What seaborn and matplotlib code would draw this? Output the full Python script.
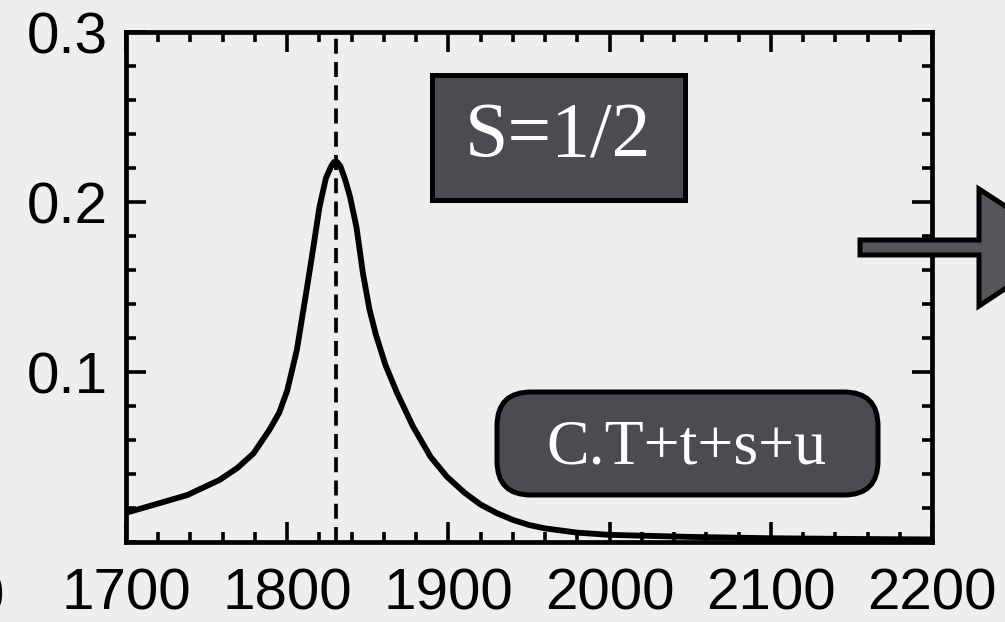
import numpy as np
import pandas as pd
import matplotlib
matplotlib.use("Agg")
import matplotlib.pyplot as plt
import seaborn as sns
from matplotlib.patches import FancyBboxPatch, Rectangle, Polygon
from matplotlib.transforms import IdentityTransform
from matplotlib.ticker import MultipleLocator

# ---- data ----
energy = [1700, 1717, 1738, 1758, 1769, 1779, 1789, 1795, 1800, 1806, 1812,
          1816, 1820, 1824, 1827, 1829, 1831, 1833, 1836, 1839, 1843, 1847,
          1851, 1855, 1861, 1868, 1878, 1889, 1899, 1910, 1920, 1930, 1940,
          1950, 1960, 1980, 2000, 2050, 2100, 2150, 2200]
signal = [0.0172, 0.0218, 0.0276, 0.0365, 0.0435, 0.052, 0.066, 0.076, 0.089,
          0.113, 0.148, 0.172, 0.197, 0.214, 0.2205, 0.2235, 0.2235, 0.221,
          0.213, 0.203, 0.185, 0.158, 0.137, 0.122, 0.104, 0.088, 0.068, 0.050,
          0.0385, 0.029, 0.022, 0.017, 0.013, 0.010, 0.008, 0.0055, 0.0042,
          0.0030, 0.0022, 0.0018, 0.0015]
peak_position = 1830
x_ticks = [1700, 1800, 1900, 2000, 2100, 2200]
x_tick_labels = ["1700", "1800", "1900", "2000", "2100", "2200"]
y_ticks = [0.1, 0.2, 0.3]
y_tick_labels = ["0.1", "0.2", "0.3"]
spin_label = "S=1/2"
channel_label = "C.T+t+s+u"

BG = "#eeeeee"
BOX = "#4b4c51"
W, H = 1005, 622

sns.set_theme(style="ticks")
plt.rcParams["font.family"] = ["Liberation Sans", "DejaVu Sans"]

fig = plt.figure(figsize=(W / 100, H / 100), dpi=100, facecolor=BG)
ax = fig.add_axes([126 / W, (H - 542) / H, (932 - 126) / W, (542 - 32) / H])
ax.set_facecolor(BG)

df = pd.DataFrame({"energy": energy, "signal": signal})
sns.lineplot(data=df, x="energy", y="signal", ax=ax, color="black",
             linewidth=4.2, zorder=3)
ax.lines[-1].set_solid_joinstyle("round")
ax.axvline(peak_position, color="black", linewidth=2.7,
           linestyle=(0, (4.0, 2.2)), zorder=2)

ax.set_xlim(1700, 2200)
ax.set_ylim(0, 0.3)
ax.set_xticks(x_ticks)
ax.set_xticklabels(x_tick_labels)
ax.set_yticks(y_ticks)
ax.set_yticklabels(y_tick_labels)
ax.xaxis.set_minor_locator(MultipleLocator(20))
ax.yaxis.set_minor_locator(MultipleLocator(0.02))
ax.set_xlabel("")
ax.set_ylabel("")
for s in ax.spines.values():
    s.set_visible(True)
    s.set_linewidth(3.4)
    s.set_color("black")
ax.tick_params(which="both", direction="in", top=True, right=True,
               color="black", width=2.6)
ax.tick_params(which="major", length=14.4, labelsize=42, labelcolor="black")
ax.tick_params(which="minor", length=7.2)
ax.tick_params(axis="y", which="major", pad=13)
ax.tick_params(axis="x", which="major", pad=18)

px = IdentityTransform()

# partially visible label at far left
fig.text(4, 8, "0", transform=px, ha="right", va="baseline", fontsize=42,
         color="black")

# S=1/2 box
fig.add_artist(Rectangle((432, H - 200), 253, 125, transform=px,
                         facecolor=BOX, edgecolor="black", linewidth=3.6))
fig.text(558, H - 138, spin_label, transform=px, ha="center", va="center",
         fontsize=56, color="white", family=["Liberation Serif", "DejaVu Serif"])

# rounded channel box
fig.add_artist(FancyBboxPatch((497, H - 495), 381, 103, transform=px,
                              boxstyle="round,pad=0,rounding_size=34",
                              facecolor=BOX, edgecolor="black", linewidth=3.6))
fig.text(686, H - 463, channel_label, transform=px, ha="center",
         va="baseline", fontsize=46, color="white",
         family=["Liberation Serif", "DejaVu Serif"])

# arrow on the right
arrow_pts = [(860, H - 240), (979, H - 240), (979, H - 189), (1068, H - 247),
             (979, H - 306), (979, H - 255), (860, H - 255)]
fig.add_artist(Polygon(arrow_pts, closed=True, transform=px,
                       facecolor="#55565a", edgecolor="black", linewidth=3.6))

fig.savefig("out.png", dpi=100, facecolor=BG)
